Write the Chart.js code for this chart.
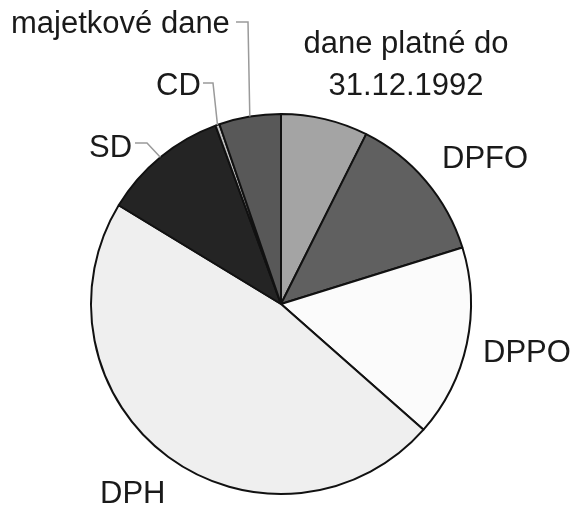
<!DOCTYPE html>
<html>
<head>
<meta charset="utf-8">
<script src="https://cdn.jsdelivr.net/npm/chart.js@4"></script>
<style>
  html, body { margin: 0; padding: 0; background: #fff; }
  #wrap { width: 574px; height: 509px; }
</style>
</head>
<body>
<div id="wrap"><canvas id="chart" width="574" height="509"></canvas></div>
<script>
'use strict'

// shares of tax revenue (%), clockwise from 12 o'clock
const categories = ['dane platné do 31.12.1992', 'DPFO', 'DPPO', 'DPH', 'SD', 'CD', 'majetkové dane']
const shares = [7.4, 12.8, 16.3, 47.2, 10.7, 0.35, 5.25]
const sliceColors = ['#a4a4a4', '#606060', '#fbfbfb', '#efefef', '#242424', '#c0c0c0', '#585858']

// label text lines and where they sit (left x / baseline y, or centred)
const labelLayout = [
    {lines: ['dane platné do', '31.12.1992'], x: 406, y: 53, align: 'center'},
    {lines: ['DPFO'], x: 442, y: 168},
    {lines: ['DPPO'], x: 483, y: 362},
    {lines: ['DPH'], x: 100, y: 503},
    {lines: ['SD'], x: 89, y: 157, leader: {y: 143, x0: 135, x1: 147}},
    {lines: ['CD'], x: 156, y: 95, leader: {y: 83, x0: 203, x1: 213}},
    {lines: ['majetkové dane'], x: 11, y: 33, leader: {y: 22, x0: 236, x1: 248}},
]

const labelPlugin = {
    id: 'sliceLabels',
    afterDraw(chart) {
        const ctx = chart.ctx
        const arcs = chart.getDatasetMeta(0).data
        ctx.save()
        ctx.font = '31px "Liberation Sans", Arial, sans-serif'
        ctx.fillStyle = '#1a1a1a'
        ctx.textBaseline = 'alphabetic'

        labelLayout.forEach((lab, i) => {
            ctx.textAlign = lab.align || 'left'
            lab.lines.forEach((line, k) => ctx.fillText(line, lab.x, lab.y + k * 42))

            // leader line: short horizontal, then to the slice edge
            if (lab.leader) {
                const arc = arcs[i]
                const mid = (arc.startAngle + arc.endAngle) / 2
                const ex = arc.x + Math.cos(mid) * arc.outerRadius
                const ey = arc.y + Math.sin(mid) * arc.outerRadius
                ctx.strokeStyle = '#9a9a9a'
                ctx.lineWidth = 1.5
                ctx.beginPath()
                ctx.moveTo(lab.leader.x0, lab.leader.y)
                ctx.lineTo(lab.leader.x1, lab.leader.y)
                ctx.lineTo(ex, ey)
                ctx.stroke()
            }
        })
        ctx.restore()
    }
}

const data = {
    labels: categories,
    datasets: [{
        data: shares,
        backgroundColor: sliceColors,
        borderColor: '#111',
        borderWidth: 2,
        borderAlign: 'center'
    }]
}

const config = {
    type: 'pie',
    data: data,
    options: {
        responsive: false,
        animation: false,
        layout: {padding: {left: 90, right: 102, top: 113, bottom: 14}},
        plugins: {
            legend: {display: false},
            tooltip: {enabled: false}
        }
    },
    plugins: [labelPlugin]
}

new Chart(document.getElementById('chart'), config)
</script>
</body>
</html>
